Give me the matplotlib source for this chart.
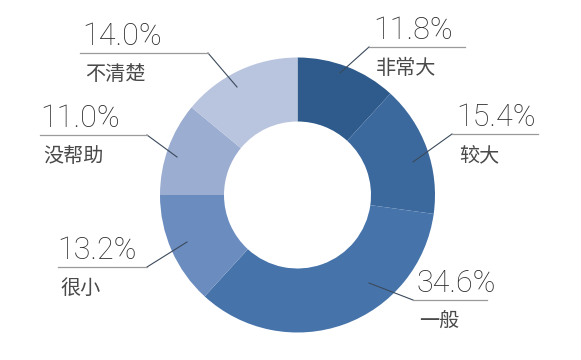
import matplotlib
matplotlib.use("Agg")
import matplotlib.pyplot as plt

# data
labels = ["非常大", "较大", "一般", "很小", "没帮助", "不清楚"]
shares = [11.8, 15.4, 34.6, 13.2, 11.0, 14.0]
colors = ["#2e5b8c", "#3c699d", "#4674aa", "#6b8cbf", "#9badd1", "#b9c4de"]

# label layout in image pixels (y from top): anchor, elbow, line end, text x
anchors = [(340, 73), (413, 162), (369, 283), (187, 242), (177, 157), (237, 87)]
elbows = [(369, 47), (452, 134), (413, 300), (147, 267), (147, 135), (208, 53)]
line_ends = [465, 538, 487, 58, 40, 80]
text_x = [373, 456, 416, 57, 40, 82]

W, H = 581, 360
fig = plt.figure(figsize=(W / 100, H / 100), dpi=100)
ax = fig.add_axes([0, 0, 1, 1])

ax.pie(shares, colors=colors, startangle=90, counterclock=False,
       center=(297.5, H - 195), radius=137.5,
       wedgeprops=dict(width=64, linewidth=0), frame=True)
ax.set_xlim(0, W)
ax.set_ylim(0, H)
ax.set_aspect("equal")
ax.axis("off")

num_font = dict(family=["Roboto", "DejaVu Sans"], fontweight="light",
                fontsize=22, color="#2b2b2b")
cn_font = dict(family=["Noto Sans CJK SC", "DejaVu Sans"],
               fontsize=14.5, color="#4a4a4a")

for lab, val, a, e, end, tx in zip(labels, shares, anchors, elbows,
                                   line_ends, text_x):
    ax.plot([a[0], e[0]], [H - a[1], H - e[1]], color="#3b4a5c", lw=0.8)
    ax.plot([e[0], end], [H - e[1], H - e[1]], color="#9a9a9a", lw=0.9)
    ax.text(tx, H - e[1] + 8, f"{val:.1f}%", ha="left", va="baseline",
            **num_font)
    ax.text(tx + 3, H - e[1] - 27, lab, ha="left", va="baseline", **cn_font)

fig.savefig("out.png", dpi=100)
